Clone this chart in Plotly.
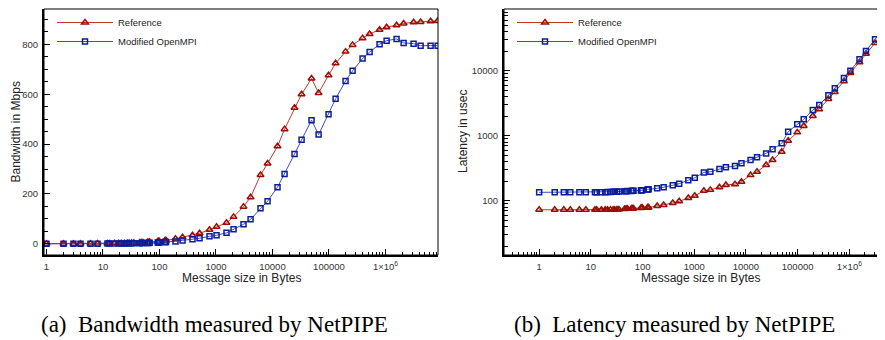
import plotly.graph_objects as go
from plotly.subplots import make_subplots

# ---------------- data ----------------
sizes = [1, 2, 3, 4, 6, 8, 12, 13, 16, 19, 21, 24, 27, 29, 32, 35,
         45, 48, 51, 61, 64, 67, 93, 96, 99, 125, 128, 131,
         192, 256, 384, 512, 768, 1024, 1536, 2048, 3072, 4096, 6144, 8192,
         12288, 16384, 24576, 32768, 49152, 65536, 98304, 131072, 196608,
         262144, 393216, 524288, 786432, 1048576, 1572864, 2097152,
         3145728, 4194304, 6291456, 8388608]

bw_reference = [0.11, 0.22, 0.33, 0.44, 0.66, 0.88, 1.3, 1.4, 1.8, 2.1, 2.3, 2.6, 3.0, 3.2, 3.5, 3.9,
                4.8, 5.1, 5.4, 6.4, 6.7, 7.0, 9.6, 9.9, 10.1, 12.8, 13.0, 13.3,
                20, 26, 34, 42, 56, 68, 84, 108, 149, 187, 276, 322,
                391, 460, 546, 600, 663, 605, 676, 724, 771,
                798, 825, 842, 859, 869, 877, 884,
                889, 890, 893, 894]

bw_modified = [0.06, 0.12, 0.18, 0.24, 0.36, 0.48, 0.71, 0.77, 0.95, 1.1, 1.2, 1.4, 1.6, 1.7, 1.9, 2.0,
               2.6, 2.7, 2.9, 3.4, 3.6, 3.8, 5.2, 5.3, 5.5, 6.7, 6.8, 7.0,
               9.6, 13.6, 18, 22, 30, 34, 44, 58, 78, 98, 143, 171,
               227, 280, 360, 417, 496, 438, 520, 582, 653,
               694, 743, 769, 801, 815, 822, 806,
               803, 795, 795, 795]

lat_reference = [72.5, 72.5, 72.5, 72.5, 72.5, 72.6, 72.6, 72.6, 72.7, 72.8, 72.8, 72.9, 73.0, 73.0, 73.1, 73.2,
                 74.5, 75.0, 75.2, 75.8, 76.0, 76.2, 77.6, 77.9, 78.1, 78.4, 78.6, 78.8,
                 82.9, 85.8, 92, 98, 110, 119, 142, 147, 161, 175, 180, 196,
                 248, 279, 354, 423, 568, 838, 1127, 1409, 2009,
                 2545, 3670, 4700, 6920, 9220, 13500, 18300,
                 26800, 36200, 56000, 75000]

lat_modified = [134.5, 134.5, 134.5, 134.5, 134.6, 134.6, 134.8, 134.8, 135, 135.5, 136, 136.5, 137, 137.5, 138, 139,
                140, 140.5, 141, 141.5, 142, 142.5, 144, 144.5, 145, 149, 149.7, 150,
                155, 160.7, 172.5, 183, 206, 226, 273, 279, 307, 326, 342, 376,
                423, 465, 535, 617, 763, 1153, 1497, 1786, 2483,
                2965, 4185, 5360, 7720, 10000, 14960, 20090,
                30400, 41900, 63000, 84000]

series_names = ["Reference", "Modified OpenMPI"]
x_tickvals = [1, 10, 100, 1000, 10000, 100000, 1000000]
x_ticktext = ["1", "10", "100", "1000", "10000", "100000", "1×10<sup>6</sup>"]
bw_tickvals = [0, 200, 400, 600, 800]
lat_tickvals = [100, 1000, 10000]
lat_ticktext = ["100", "1000", "10000"]
captions = ["(a)  Bandwidth measured by NetPIPE", "(b)  Latency measured by NetPIPE"]

# ---------------- styles ----------------
RED_LINE, RED_MK = "#c0392f", "#9a0e06"
BLUE_LINE, BLUE_MK = "#3a4fc4", "#0c1d9c"
SANS = "Liberation Sans, Arial, sans-serif"
SERIF = "Liberation Serif, Times New Roman, serif"
TICKFONT = dict(family=SANS, size=9.5, color="#333333")

# the page body has an 8px margin: the figure is shrunk so that it fits the window
OFF = 8
W, H = 885 - OFF, 340 - OFF
ML, MR, MT, MB = 44 - OFF, 0, 9 - OFF, 340 - 255
PW = W - ML - MR
PH = H - MT - MB


def px_x(p):  # page pixel -> paper x
    return (p - OFF - ML) / PW


def px_y(p):  # page pixel -> paper y
    return (H - MB - (p - OFF)) / PH


fig = make_subplots(rows=1, cols=2)

ref_style = dict(mode="lines+markers",
                 line=dict(color=RED_LINE, width=1),
                 marker=dict(symbol="triangle-up-open", size=6, color=RED_MK,
                             line=dict(width=1.5, color=RED_MK)))
mod_style = dict(mode="lines+markers",
                 line=dict(color=BLUE_LINE, width=1),
                 marker=dict(symbol="square-open", size=5, color=BLUE_MK,
                             line=dict(width=1.5, color=BLUE_MK)))

fig.add_trace(go.Scatter(x=sizes, y=bw_reference, name=series_names[0], legend="legend", **ref_style), row=1, col=1)
fig.add_trace(go.Scatter(x=sizes, y=bw_modified, name=series_names[1], legend="legend", **mod_style), row=1, col=1)
fig.add_trace(go.Scatter(x=sizes, y=lat_reference, name=series_names[0], legend="legend2", **ref_style), row=1, col=2)
fig.add_trace(go.Scatter(x=sizes, y=lat_modified, name=series_names[1], legend="legend2", **mod_style), row=1, col=2)


def log_minors(lo, hi):
    out = []
    for e in range(lo, hi):
        for m in range(2, 10):
            out.append(m * 10 ** e)
    return out


axis_common = dict(showline=True, linewidth=2, linecolor="black", mirror=False,
                   ticks="inside", ticklen=6, tickwidth=1, tickcolor="black",
                   showgrid=False, zeroline=False, tickfont=TICKFONT, ticklabelstandoff=2)


def minor(vals):
    return dict(ticks="inside", ticklen=3.5, tickcolor="black", tickwidth=1,
                tickmode="array", tickvals=vals, showgrid=False)


fig.update_xaxes(type="log", tickmode="array", tickvals=x_tickvals, ticktext=x_ticktext,
                 minor=minor(log_minors(-1, 7)), **axis_common)
fig.update_xaxes(range=[-0.044, 6.93], domain=[0, px_x(438)], row=1, col=1)
fig.update_xaxes(range=[-0.68, 6.69], domain=[px_x(504), 1.0], row=1, col=2)

fig.update_yaxes(tickmode="array", tickvals=bw_tickvals, range=[-45, 942],
                 minor=minor(list(range(-50, 950, 50))), **axis_common, row=1, col=1)
fig.update_yaxes(type="log", tickmode="array", tickvals=lat_tickvals, ticktext=lat_ticktext,
                 range=[1.165, 4.95], minor=minor(log_minors(1, 5)), **axis_common, row=1, col=2)

# thin frame around both plot areas
for xr, yr in (("x", "y"), ("x2", "y2")):
    fig.add_shape(type="rect", xref=f"{xr} domain", yref=f"{yr} domain",
                  x0=0, x1=1, y0=0, y1=1, line=dict(color="black", width=1), layer="above")

ann = []
title_font = dict(family=SANS, size=12, color="#222222")
ann.append(dict(text="Bandwidth in Mbps", x=px_x(15.5), y=0.5, textangle=-90, font=title_font))
ann.append(dict(text="Latency in usec", x=px_x(463), y=0.5, textangle=-90, font=title_font))
ann.append(dict(text="Message size in Bytes", x=px_x(241), y=px_y(278), font=title_font))
ann.append(dict(text="Message size in Bytes", x=px_x(700), y=px_y(278), font=title_font))
cap_font = dict(family=SERIF, size=23, color="black")
ann.append(dict(text=captions[0], x=px_x(214), y=px_y(324), font=cap_font))
ann.append(dict(text=captions[1], x=px_x(674), y=px_y(324), font=cap_font))
for a in ann:
    fig.add_annotation(xref="paper", yref="paper", showarrow=False,
                       xanchor="center", yanchor="middle", **a)

legend_common = dict(font=dict(family=SANS, size=9.5, color="#222222"),
                     bgcolor="rgba(0,0,0,0)", borderwidth=0, xanchor="left", yanchor="top",
                     itemwidth=56, tracegroupgap=0)
fig.update_layout(
    width=W, height=H,
    margin=dict(l=ML, r=MR, t=MT, b=MB),
    paper_bgcolor="white", plot_bgcolor="white",
    showlegend=True,
    legend=dict(x=px_x(52), y=px_y(8), **legend_common),
    legend2=dict(x=px_x(512), y=px_y(8), **legend_common),
)

fig.write_html("out.html")
